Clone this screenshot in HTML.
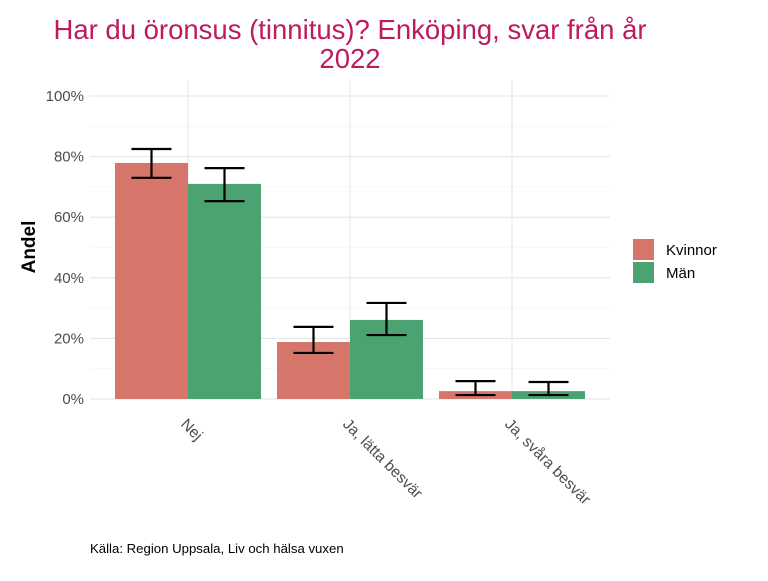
<!DOCTYPE html>
<html><head><meta charset="utf-8"><style>
body{margin:0;background:#fff;font-family:"Liberation Sans",sans-serif}
</style></head><body>
<svg width="768" height="576" xmlns="http://www.w3.org/2000/svg" font-family="Liberation Sans, sans-serif">
<text x="350" y="39" font-size="27.5" fill="#BE1A5E" text-anchor="middle">Har du öronsus (tinnitus)? Enköping, svar från år</text>
<text x="350" y="68" font-size="27.5" fill="#BE1A5E" text-anchor="middle">2022</text>
<g id="grid"></g><g id="bars"></g><g id="errs"></g><g id="axes"></g>
<text transform="translate(35,247) rotate(-90)" font-size="19" font-weight="bold" text-anchor="middle">Andel</text>
<rect x="633" y="239" width="21" height="21" fill="#D6766A"/>
<text x="666" y="255" font-size="15">Kvinnor</text>
<rect x="633" y="262" width="21" height="21" fill="#4BA372"/>
<text x="666" y="278" font-size="15">Män</text>
<text x="90" y="553" font-size="13.2">Källa: Region Uppsala, Liv och hälsa vuxen</text>
</svg>
<script>
const categories=["Nej","Ja, lätta besvär","Ja, svåra besvär"];
const kvinnor=[77.9,18.8,2.6];
const man=[71.0,26.1,2.6];
const kvinnorLow=[73.0,15.2,1.3];
const kvinnorHigh=[82.5,23.8,5.9];
const manLow=[65.3,21.1,1.3];
const manHigh=[76.2,31.7,5.6];
const yTicks=[0,20,40,60,80,100];
const NS="http://www.w3.org/2000/svg";
const y=v=>399-v*3.03;
const x=i=>188+i*162;
const bw=73;
function mk(tag,attrs,parent){const e=document.createElementNS(NS,tag);for(const k in attrs)e.setAttribute(k,attrs[k]);document.getElementById(parent).appendChild(e);return e;}
for(let v=0;v<=100;v+=10){
 const l=mk('line',{x1:90,x2:610,y1:y(v),y2:y(v),stroke:v%20?'#f3f3f3':'#e6e6e6','stroke-width':v%20?0.6:1.1},'grid');
 
 
}
yTicks.forEach(v=>{
 const t=mk('text',{x:84,y:y(v)+5,'text-anchor':'end','font-size':15,fill:'#4d4d4d'},'axes');
 t.textContent=v+'%';
 
 
});
categories.forEach((c,i)=>{
 const g=mk('line',{x1:x(i),x2:x(i),y1:80,y2:399,stroke:'#e6e6e6','stroke-width':1.1},'grid');
 
 
 const bk=mk('rect',{x:x(i)-bw,y:y(kvinnor[i]),width:bw,height:y(0)-y(kvinnor[i]),fill:'#D6766A'},'bars');
 
 
 const bm=mk('rect',{x:x(i),y:y(man[i]),width:bw,height:y(0)-y(man[i]),fill:'#4BA372'},'bars');
 
 
 [[x(i)-bw/2,kvinnorLow[i],kvinnorHigh[i]],[x(i)+bw/2,manLow[i],manHigh[i]]].forEach(([cx,lo,hi])=>{
  const p=mk('path',{d:`M${cx-20},${y(hi)}H${cx+20}M${cx},${y(hi)}V${y(lo)}M${cx-20},${y(lo)}H${cx+20}`,stroke:'#000','stroke-width':2.2,fill:'none'},'errs');
  
  
 });
 const t=mk('text',{transform:`translate(${x(i)-8},425) rotate(45)`,'font-size':15.5,fill:'#4d4d4d'},'axes');
 t.textContent=c;
 
 
});
</script>
</body></html>
